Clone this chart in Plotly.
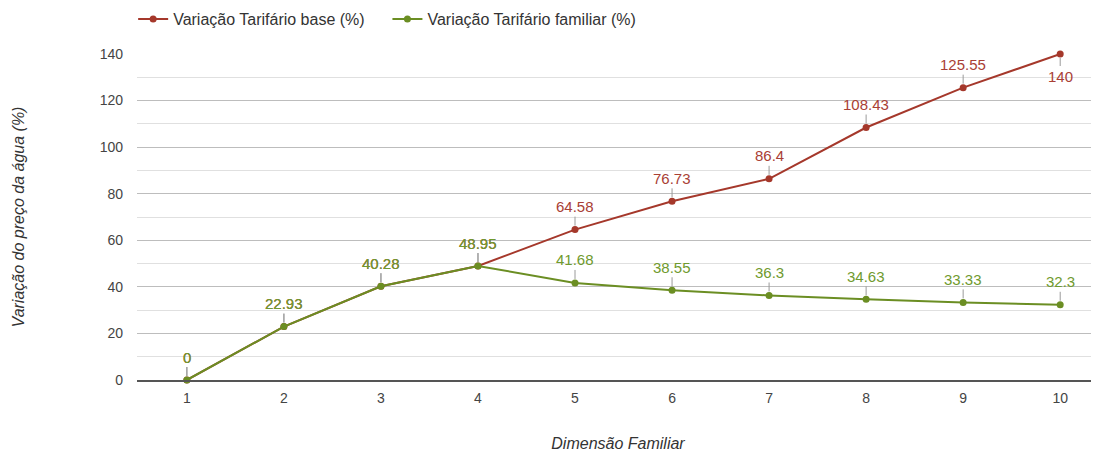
import plotly.graph_objects as go

dimensao = [1, 2, 3, 4, 5, 6, 7, 8, 9, 10]
tarifario_base = [0, 22.93, 40.28, 48.95, 64.58, 76.73, 86.4, 108.43, 125.55, 140]
tarifario_familiar = [0, 22.93, 40.28, 48.95, 41.68, 38.55, 36.3, 34.63, 33.33, 32.3]
y_ticks = [0, 20, 40, 60, 80, 100, 120, 140]

red_line = "#a5382b"
green_line = "#6b8e23"
red_text = "#a94035"
green_text = "#6f9a2e"
font_family = "Liberation Sans, Arial, sans-serif"

fig = go.Figure()
fig.add_trace(go.Scatter(
    x=dimensao, y=tarifario_base, mode="lines+markers",
    name="Variação Tarifário base (%)" + "\u00a0" * 4,
    line=dict(color=red_line, width=2),
    marker=dict(color=red_line, size=7),
    cliponaxis=False,
))
fig.add_trace(go.Scatter(
    x=dimensao, y=tarifario_familiar, mode="lines+markers",
    name="Variação Tarifário familiar (%)",
    line=dict(color=green_line, width=2),
    marker=dict(color=green_line, size=7),
    cliponaxis=False,
))

annotations = []
for series, color in ((tarifario_base, red_text), (tarifario_familiar, green_text)):
    n = len(series)
    for i, (xv, yv) in enumerate(zip(dimensao, series)):
        below = (series is tarifario_base and i == n - 1)
        annotations.append(dict(
            x=xv, y=yv, xref="x", yref="y",
            text=f"{yv:g}",
            showarrow=True, arrowhead=0, arrowwidth=1, arrowcolor="#9a9a9a",
            ax=0, ay=22 if below else -23, standoff=4,
            font=dict(family=font_family, size=15, color=color),
        ))

fig.update_layout(
    width=1091, height=444,
    margin=dict(l=129, r=0, t=46, b=72),
    paper_bgcolor="white", plot_bgcolor="white",
    font=dict(family=font_family, size=14, color="#444444"),
    showlegend=True,
    legend=dict(
        orientation="h", x=-0.004, xanchor="left",
        yref="container", y=0.975, yanchor="middle",
        font=dict(family=font_family, size=16, color="#333333"),
        itemwidth=30,
    ),
    annotations=annotations,
    xaxis=dict(
        range=[0.486, 10.40], tickvals=dimensao,
        showgrid=False, zeroline=False, automargin=False,
        showline=True, linecolor="#555555", linewidth=1.5,
        ticks="", ticklabelstandoff=4, tickfont=dict(size=14, color="#444444"),
        title=dict(text="<i>Dimensão Familiar</i>", standoff=36,
                   font=dict(size=16, color="#333333")),
    ),
    yaxis=dict(
        range=[0, 140], tickvals=y_ticks,
        showgrid=True, gridcolor="#bdbdbd", gridwidth=1,
        minor=dict(dtick=10, showgrid=True, gridcolor="#e0e0e0"),
        zeroline=False, automargin=False,
        ticks="", ticklabelstandoff=13,
        tickfont=dict(size=14, color="#444444"),
        title=dict(text="<i>Variação do preço da água (%)</i>", standoff=71,
                   font=dict(size=16, color="#333333")),
    ),
)

fig.write_html("out.html")
